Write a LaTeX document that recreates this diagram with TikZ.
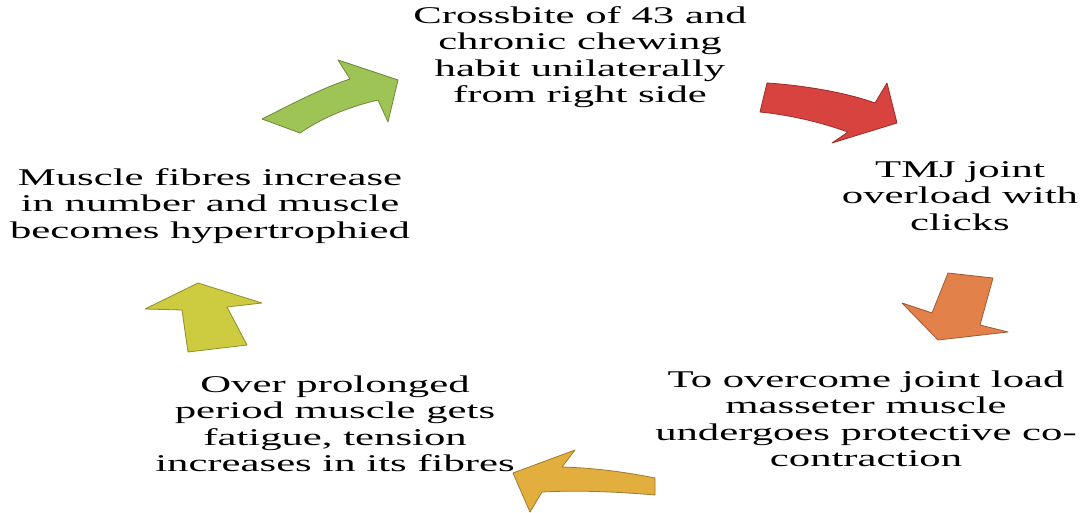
\documentclass[tikz,border=0pt]{standalone}
\usepackage{fontspec}
\newfontfamily\wideserif[FakeStretch=1.78]{Liberation Serif}
\definecolor{cgreen}{HTML}{9DC454}
\definecolor{cred}{HTML}{D8423F}
\definecolor{corange}{HTML}{E3814A}
\definecolor{cgold}{HTML}{E2AE3E}
\definecolor{cyellow}{HTML}{CDCB3F}
\begin{document}
\begin{tikzpicture}[x=1pt,y=-1pt,
  lbl/.style={align=center,inner sep=0pt,font=\wideserif\fontsize{24}{26.5}\selectfont},
  arrowshape/.style={line width=0.8pt,line join=round}]
\useasboundingbox (0,0) rectangle (1082,513);
\fill[white] (0,0) rectangle (1082,513);
% texts
\node[lbl] (t1) at (580,57) {Crossbite of 43 and\\chronic chewing\\habit unilaterally\\from right side};
\node[lbl] (t2) at (960,196) {TMJ joint\\overload with\\clicks};
\node[lbl] (t3) at (866,419) {To overcome joint load\\masseter muscle\\undergoes protective co-\\contraction};
\node[lbl] (t4) at (335,424) {Over prolonged\\period muscle gets\\fatigue, tension\\increases in its fibres};
\node[lbl] (t5) at (210,206) {Muscle fibres increase\\in number and muscle\\becomes hypertrophied};
% arrows
\draw[arrowshape,fill=cgreen,draw=cgreen!70!black]
  (262,119) .. controls (292,104) and (322,88) .. (350,79) -- (338,60) -- (398,80) -- (388,122) -- (378,100)
  .. controls (348,107) and (322,118) .. (300,133) -- cycle;
\draw[arrowshape,fill=cred,draw=cred!70!black]
  (767,83) .. controls (800,85) and (845,92) .. (875,103) -- (887,83) -- (897,123) -- (832,143) -- (848,132)
  .. controls (820,122) and (790,115) .. (760,112) -- cycle;
\draw[arrowshape,fill=corange,draw=corange!70!black]
  (948,273) -- (993,278) -- (980,325) -- (1008,332) -- (938,340) -- (902,303) -- (932,313) -- cycle;
\draw[arrowshape,fill=cgold,draw=cgold!70!black]
  (655,478) -- (655,495) .. controls (620,492) and (580,490) .. (542,492) -- (530,512) -- (513,473) -- (575,450) -- (562,467)
  .. controls (595,468) and (625,472) .. (655,478) -- cycle;
\draw[arrowshape,fill=cyellow,draw=cyellow!70!black]
  (198,283) -- (262,303) -- (227,307) -- (247,345) -- (188,352) -- (182,310) -- (145,309) -- cycle;
\end{tikzpicture}
\end{document}
